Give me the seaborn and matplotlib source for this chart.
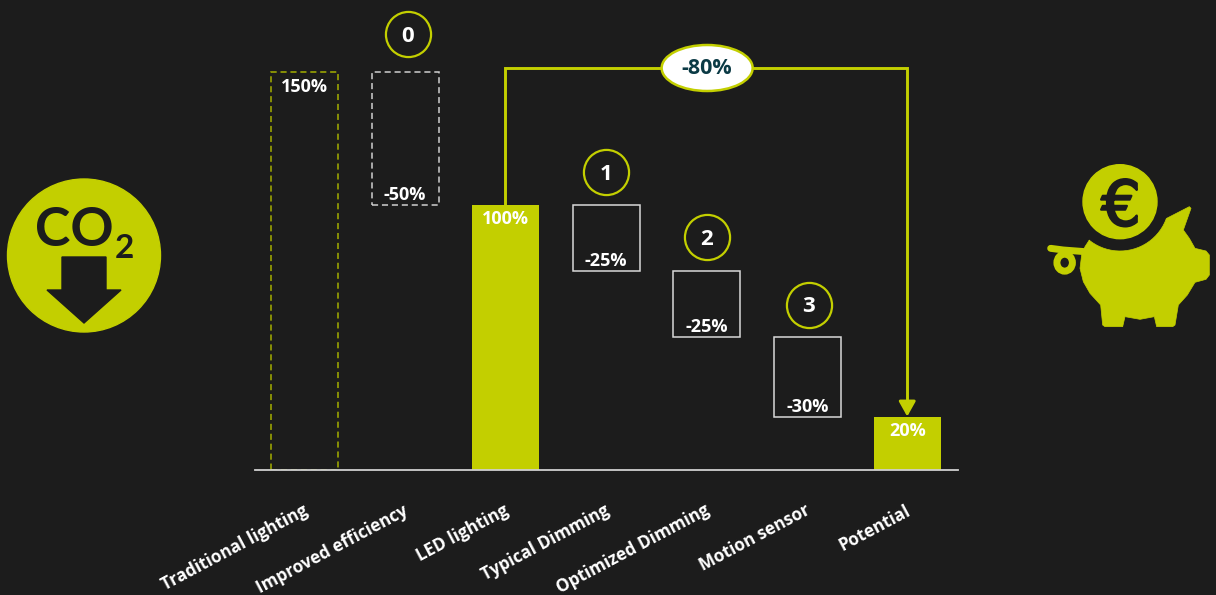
#!/usr/bin/python
'''
    Waterfall of lighting savings with the CO2 and piggy bank icons
'''
import numpy as np
import pandas as pd
import seaborn as sns
import matplotlib.pyplot as plt
import matplotlib.patheffects as pe
import matplotlib.transforms as mtrans
from matplotlib.patches import Circle, Ellipse, PathPatch, Polygon
from matplotlib.path import Path

#Data
CATEGORIES = ['Traditional lighting', 'Improved efficiency', 'LED lighting',
              'Typical Dimming', 'Optimized Dimming', 'Motion sensor', 'Potential']
HEIGHTS = [150, 50, 100, 25, 25, 30, 20]
BOTTOMS = [0, 100, 0, 75, 50, 20, 0]
BAR_LABELS = ['150%', '-50%', '100%', '-25%', '-25%', '-30%', '20%']
STEP_LABELS = ['', '0', '', '1', '2', '3', '']
TOTAL_LABEL = '-80%'

#Global
BG = '#1c1c1c'
LIME = '#c3cf00'
WHITE = '#ffffff'
PX_PER_UNIT = 2.65
PX_PER_CAT = 100.55
FONT = 'Open Sans'
#circle centre relative to the top of its bar, in pixels
STEP_DX = {'0': 3, '1': 0, '2': 0, '3': 1.5}
STEP_DY = {'0': 38, '1': 32.5, '2': 34, '3': 32.5}


def style_bars(axes):
    '''Every bar in the reference has its own line style'''
    for i, bar in enumerate(axes.patches):
        bar.set_linewidth(1.1)
        if i == 0:
            bar.set(facecolor='none', edgecolor='#a5af00', linestyle=(0, (4, 2.5)))
        elif i == 1:
            bar.set(facecolor='none', edgecolor='#cfcfcf', linestyle=(0, (4, 2.5)))
        elif i in (2, 6):
            bar.set(facecolor=LIME, edgecolor=LIME, linewidth=0)
        else:
            bar.set(facecolor='none', edgecolor='#d8d8d8')


def draw_labels(axes):
    '''Percent labels inside bars, numbered circles above the steps'''
    for i, label in enumerate(BAR_LABELS):
        top = BOTTOMS[i] + HEIGHTS[i]
        if label.startswith('-'):
            y_pos = BOTTOMS[i] + 10 / PX_PER_UNIT
        else:
            y_pos = top - 14.5 / PX_PER_UNIT
        axes.text(i, y_pos, label, color=WHITE, ha='center', va='center',
                  fontsize=13, fontweight='bold', family=FONT)
        step = STEP_LABELS[i]
        if step:
            x_pos = i + STEP_DX[step] / PX_PER_CAT
            y_circle = top + STEP_DY[step] / PX_PER_UNIT
            axes.plot([x_pos], [y_circle], 'o', ms=32.5, mfc='none', mec=LIME,
                      mew=1.6, clip_on=False)
            axes.text(x_pos, y_circle, step, color=WHITE, ha='center',
                      va='center_baseline', fontsize=16, fontweight='bold', family=FONT)


def draw_connector(axes):
    '''Bracket from LED lighting to Potential with the total in an ellipse'''
    start, end = CATEGORIES.index('LED lighting'), CATEGORIES.index('Potential')
    y_top = BOTTOMS[start] + HEIGHTS[start] + 136.5 / PX_PER_UNIT
    x_start = start - 1 / PX_PER_CAT
    x_end = end - 0.5 / PX_PER_CAT
    y_neck = HEIGHTS[end] + 12 / PX_PER_UNIT
    axes.plot([x_start, x_start, x_end, x_end], [HEIGHTS[start], y_top, y_top, y_neck],
              color=LIME, lw=2.1, clip_on=False, solid_joinstyle='miter')
    axes.annotate('', xy=(x_end, HEIGHTS[end]), xytext=(x_end, y_neck + 2 / PX_PER_UNIT),
                  arrowprops=dict(arrowstyle='-|>,head_length=0.75,head_width=0.42',
                                  color=LIME, lw=2.1, shrinkA=0, shrinkB=0))
    mid_x = (start + end) / 2 + 0.5 / PX_PER_CAT
    axes.add_patch(Ellipse((mid_x, y_top), 91 / PX_PER_CAT, 46 / PX_PER_UNIT,
                           facecolor=WHITE, edgecolor=LIME, lw=1.8, zorder=5, clip_on=False))
    axes.text(mid_x, y_top, TOTAL_LABEL, color='#0b3a45', ha='center', va='center',
              fontsize=15.5, fontweight='bold', family=FONT, zorder=6)


def draw_co2_icon(axes):
    '''CO2 badge, pixel coordinates'''
    axes.add_patch(Circle((84, 255.5), 76.5, color=LIME))
    axes.text(74, 231, 'CO', color=BG, ha='center', va='center', fontsize=38.5,
              fontweight='bold', family='Lato')
    axes.text(124, 249, '2', color=BG, ha='center', va='center', fontsize=24,
              fontweight='bold', family='Lato')
    arrow = [(62, 257), (106, 257), (106, 290), (121, 290), (84, 323), (47, 290), (62, 290)]
    axes.add_patch(Polygon(arrow, closed=True, color=BG))


def zoom_px(points):
    '''Outline of the piggy was traced on a crop at 3x, origin (1030, 150)'''
    points = np.asarray(points, dtype=float)
    return np.column_stack([1030 + points[:, 0] / 3, 150 + points[:, 1] / 3])


def draw_piggy_icon(axes):
    '''Piggy bank with the euro coin, pixel coordinates'''
    axes.add_patch(Circle((1120, 201.7), 37, color=LIME))
    axes.text(1121, 202, '€', color=BG, ha='center', va='center_baseline', fontsize=45,
              family='DejaVu Sans',
              path_effects=[pe.withStroke(linewidth=1.6, foreground=BG)])

    angles = np.radians(np.linspace(129, 20, 24))
    groove = np.column_stack([270 + 148 * np.cos(angles), 155 + 148 * np.sin(angles)])
    body = [(410, 205), (478, 170), (483, 175), (460, 240), (478, 265), (495, 295),
            (528, 303), (538, 315), (538, 375), (528, 388), (495, 397), (472, 435),
            (445, 465), (435, 525), (428, 530), (380, 530), (373, 500), (330, 508),
            (285, 500), (278, 530), (225, 530), (218, 525), (212, 465), (180, 430),
            (160, 395), (150, 355), (155, 315), (165, 290), (178, 270)]
    outline = np.vstack([groove, body])
    axes.add_patch(PathPatch(Path(zoom_px(outline), closed=False), facecolor=LIME,
                             edgecolor=LIME, lw=0.5, joinstyle='round'))

    tail = zoom_px([(62, 295), (100, 300), (165, 305)])
    axes.plot(tail[:, 0], tail[:, 1], color=LIME, lw=5, solid_capstyle='round')
    center = zoom_px([(104, 338)])[0]
    axes.add_patch(Ellipse(center, 15.5, 17, facecolor='none', edgecolor=LIME, lw=5))


def main():
    '''main'''
    sns.set_theme(style='dark', rc={'figure.facecolor': BG, 'axes.facecolor': BG})
    plt.rcParams['font.family'] = [FONT, 'DejaVu Sans']

    bars_df = pd.DataFrame({'category': CATEGORIES, 'height': HEIGHTS})
    fig = plt.figure(figsize=(12.16, 5.95), dpi=100)
    axes = fig.add_axes([255 / 1216, 125.5 / 595, 703 / 1216, 469.5 / 595])
    sns.barplot(data=bars_df, x='category', y='height', bottom=BOTTOMS, width=67 / PX_PER_CAT,
                color=LIME, ax=axes, errorbar=None)
    style_bars(axes)

    axes.set_xlim(-49.5 / PX_PER_CAT, 6.5)
    axes.set_ylim(0, 469.5 / PX_PER_UNIT)
    axes.set(xlabel='', ylabel='', yticks=[])
    for side in ('top', 'left', 'right'):
        axes.spines[side].set_visible(False)
    axes.spines['bottom'].set_color('#d0d0d0')
    axes.spines['bottom'].set_linewidth(1.3)
    axes.patch.set_alpha(0)

    axes.set_xticks(range(len(CATEGORIES)))
    axes.set_xticklabels(CATEGORIES, rotation=28, ha='right', rotation_mode='anchor',
                         color=WHITE, fontsize=12.3, fontweight='bold')
    axes.tick_params(axis='x', length=0, pad=23)
    shift = mtrans.ScaledTranslation(-2 / 100, 0, fig.dpi_scale_trans)
    for label in axes.get_xticklabels():
        label.set_transform(label.get_transform() + shift)

    draw_labels(axes)
    draw_connector(axes)

    overlay = fig.add_axes([0, 0, 1, 1])
    overlay.set_xlim(0, 1216)
    overlay.set_ylim(595, 0)
    overlay.axis('off')
    draw_co2_icon(overlay)
    draw_piggy_icon(overlay)

    fig.savefig('out.png', dpi=100, facecolor=BG)


if __name__ == '__main__':
    main()
